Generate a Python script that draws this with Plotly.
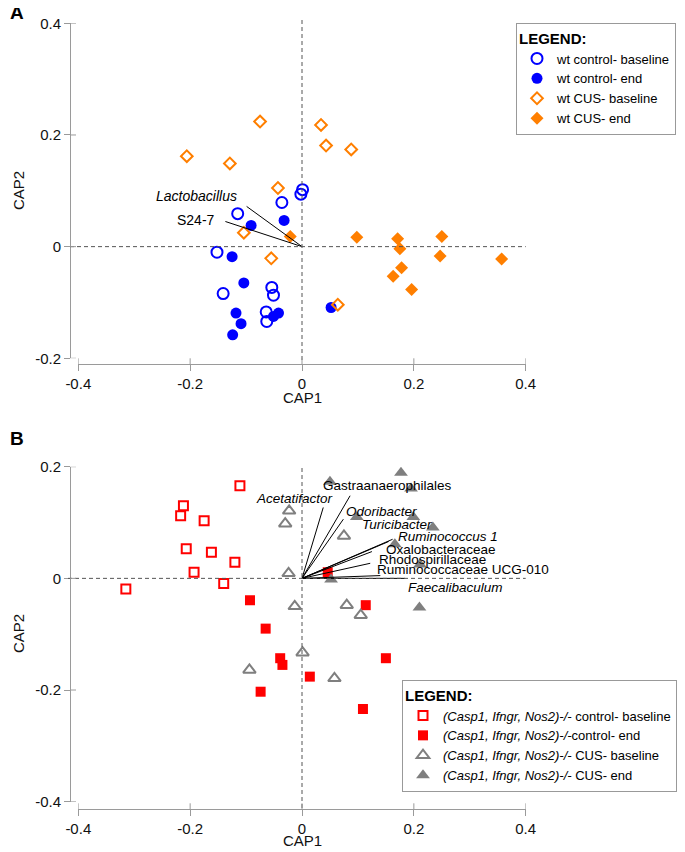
import plotly.graph_objects as go

# The page adds an 8px body margin, so the figure is drawn 8px in from the corner.
OFF = 8
W, H = 685 - OFF, 852 - OFF
FONT = "Liberation Sans, Arial, sans-serif"

# ---------------- Panel A data ----------------
a_ctrl_base_x = [0.001, -0.002, -0.036, -0.115, -0.152, -0.141, -0.054, -0.051, -0.064, -0.063]
a_ctrl_base_y = [0.102, 0.094, 0.079, 0.059, -0.010, -0.084, -0.073, -0.087, -0.117, -0.134]
a_ctrl_end_x = [-0.032, -0.091, -0.125, -0.104, -0.118, -0.109, -0.124, -0.042, -0.051, 0.052]
a_ctrl_end_y = [0.047, 0.038, -0.018, -0.065, -0.119, -0.138, -0.158, -0.119, -0.125, -0.109]
a_cus_base_x = [-0.075, -0.206, -0.129, -0.043, -0.104, -0.055, 0.034, 0.043, 0.088, 0.064]
a_cus_base_y = [0.224, 0.162, 0.149, 0.105, 0.025, -0.021, 0.218, 0.181, 0.174, -0.104]
a_cus_end_x = [-0.021, 0.098, 0.171, 0.175, 0.250, 0.247, 0.357, 0.178, 0.163, 0.196]
a_cus_end_y = [0.018, 0.017, 0.014, -0.004, 0.018, -0.017, -0.022, -0.038, -0.053, -0.077]
a_vec_names = ["<i>Lactobacillus</i>", "S24-7"]
a_vec_x = [-0.099, -0.137]
a_vec_y = [0.072, 0.045]
a_label_x = [-0.188, -0.189]
a_label_y = [0.090, 0.048]

# ---------------- Panel B data ----------------
b_ctrl_base_x = [-0.111, -0.212, -0.217, -0.175, -0.207, -0.162, -0.120, -0.193, -0.140, -0.315]
b_ctrl_base_y = [0.166, 0.130, 0.112, 0.103, 0.053, 0.047, 0.029, 0.011, -0.009, -0.019]
b_ctrl_end_x = [-0.093, -0.065, -0.039, -0.035, -0.074, 0.014, 0.046, 0.114, 0.150, 0.109]
b_ctrl_end_y = [-0.039, -0.090, -0.143, -0.155, -0.203, -0.176, 0.011, -0.048, -0.143, -0.234]
b_cus_base_x = [-0.023, -0.030, -0.024, -0.013, 0.001, -0.094, 0.075, 0.080, 0.105, 0.058]
b_cus_base_y = [0.121, 0.098, 0.009, -0.050, -0.133, -0.164, 0.076, -0.048, -0.066, -0.179]
b_cus_end_x = [0.050, 0.177, 0.195, 0.098, 0.199, 0.234, 0.166, 0.211, 0.052, 0.210]
b_cus_end_y = [0.173, 0.189, 0.161, 0.110, 0.110, 0.091, 0.061, 0.025, -0.002, -0.052]
b_vec_names = ["<i>Acetatifactor</i>", "Gastraanaerophilales", "<i>Odoribacter</i>",
               "<i>Turicibacter</i>", "<i>Ruminococcus 1</i>", "Oxalobacteraceae",
               "Rhodospirillaceae", "Ruminococcaceae UCG-010", "<i>Faecalibaculum</i>"]
b_vec_x = [0.038, 0.086, 0.074, 0.155, 0.162, 0.125, 0.122, 0.140, 0.184]
b_vec_y = [0.127, 0.148, 0.106, 0.066, 0.070, 0.048, 0.027, 0.005, 0.000]
b_label_x = [-0.014, 0.152, 0.143, 0.170, 0.261, 0.249, 0.234, 0.288, 0.274]
b_label_y = [0.143, 0.167, 0.119, 0.096, 0.075, 0.051, 0.033, 0.015, -0.016]

x_ticks = [-0.4, -0.2, 0, 0.2, 0.4]
x_ticktext = ["-0.4", "-0.2", "0", "0.2", "0.4"]
a_y_ticks = [-0.2, 0, 0.2, 0.4]
a_y_ticktext = ["-0.2", "0", "0.2", "0.4"]
b_y_ticks = [-0.4, -0.2, 0, 0.2]
b_y_ticktext = ["-0.4", "-0.2", "0", "0.2"]

BLUE = "#0000FF"
ORANGE = "#FF7F00"
RED = "#FF0000"
GRAY = "#7F7F7F"
AXC = "#9a9a9a"


def px(p):
    return (p - OFF) / W


def py(p):
    return 1 - (p - OFF) / H


fig = go.Figure()

# ----- Panel A traces -----
fig.add_trace(go.Scatter(x=a_ctrl_base_x, y=a_ctrl_base_y, mode="markers", name="wt control- baseline",
                         marker=dict(symbol="circle-open", size=11, color=BLUE, line=dict(width=2, color=BLUE)),
                         xaxis="x", yaxis="y", legend="legend"))
fig.add_trace(go.Scatter(x=a_ctrl_end_x, y=a_ctrl_end_y, mode="markers", name="wt control- end",
                         marker=dict(symbol="circle", size=11, color=BLUE),
                         xaxis="x", yaxis="y", legend="legend"))
fig.add_trace(go.Scatter(x=a_cus_base_x, y=a_cus_base_y, mode="markers", name="wt CUS- baseline",
                         marker=dict(symbol="diamond-open", size=9, color=ORANGE, line=dict(width=2, color=ORANGE)),
                         xaxis="x", yaxis="y", legend="legend"))
fig.add_trace(go.Scatter(x=a_cus_end_x, y=a_cus_end_y, mode="markers", name="wt CUS- end",
                         marker=dict(symbol="diamond", size=10, color=ORANGE),
                         xaxis="x", yaxis="y", legend="legend"))
vx, vy = [], []
for ex, ey in zip(a_vec_x, a_vec_y):
    vx += [0, ex, None]
    vy += [0, ey, None]
fig.add_trace(go.Scatter(x=vx, y=vy, mode="lines", line=dict(color="black", width=1),
                         showlegend=False, hoverinfo="skip", xaxis="x", yaxis="y"))

# ----- Panel B traces -----
fig.add_trace(go.Scatter(x=b_ctrl_base_x, y=b_ctrl_base_y, mode="markers",
                         name="<i>(Casp1, Ifngr, Nos2)-/-</i> control- baseline",
                         marker=dict(symbol="square-open", size=9, color=RED, line=dict(width=2, color=RED)),
                         xaxis="x2", yaxis="y2", legend="legend2"))
fig.add_trace(go.Scatter(x=b_ctrl_end_x, y=b_ctrl_end_y, mode="markers",
                         name="<i>(Casp1, Ifngr, Nos2)-/-</i>control- end",
                         marker=dict(symbol="square", size=10, color=RED),
                         xaxis="x2", yaxis="y2", legend="legend2"))
fig.add_trace(go.Scatter(x=b_cus_base_x, y=b_cus_base_y, mode="markers",
                         name="<i>(Casp1, Ifngr, Nos2)-/-</i> CUS- baseline",
                         marker=dict(symbol="triangle-up-open", size=11, color=GRAY, line=dict(width=2, color=GRAY)),
                         xaxis="x2", yaxis="y2", legend="legend2"))
fig.add_trace(go.Scatter(x=b_cus_end_x, y=b_cus_end_y, mode="markers",
                         name="<i>(Casp1, Ifngr, Nos2)-/-</i> CUS- end",
                         marker=dict(symbol="triangle-up", size=12, color=GRAY),
                         xaxis="x2", yaxis="y2", legend="legend2"))
vx, vy = [], []
for ex, ey in zip(b_vec_x, b_vec_y):
    vx += [0, ex, None]
    vy += [0, ey, None]
fig.add_trace(go.Scatter(x=vx, y=vy, mode="lines", line=dict(color="black", width=1),
                         showlegend=False, hoverinfo="skip", xaxis="x2", yaxis="y2"))

# ----- axes -----
xdom = [px(78.3), px(525.7)]
yaxis_pos = px(70)
tickfont = dict(family=FONT, size=15, color="#111")


def xax(pos):
    return dict(domain=xdom, range=[-0.4, 0.4], anchor="free", position=pos,
                tickvals=x_ticks, ticktext=x_ticktext, ticks="outside", ticklen=6,
                tickcolor=AXC, tickwidth=1, showline=True, linecolor=AXC, linewidth=1,
                showgrid=False, zeroline=False, tickfont=tickfont, fixedrange=True)


def yax(dom, rng, tv, tt):
    return dict(domain=dom, range=rng, anchor="free", position=yaxis_pos,
                tickvals=tv, ticktext=tt, ticks="outside", ticklen=6,
                tickcolor=AXC, tickwidth=1, showline=True, linecolor=AXC, linewidth=1,
                showgrid=False, zeroline=False, tickfont=tickfont, fixedrange=True)


a_xpos = py(364.3)
b_xpos = py(809.3)

fig.update_layout(
    xaxis=xax(a_xpos),
    yaxis=yax([py(358.3), py(23.3)], [-0.2, 0.4], a_y_ticks, a_y_ticktext),
    xaxis2=xax(b_xpos),
    yaxis2=yax([py(801.7), py(466.7)], [-0.4, 0.2], b_y_ticks, b_y_ticktext),
)

shapes = []
dash = "4px,3px"
dcol = "#555555"
# dashed reference lines
shapes.append(dict(type="line", xref="paper", yref="y", x0=px(70), x1=px(525.7), y0=0, y1=0,
                   line=dict(color=dcol, width=1, dash=dash)))
shapes.append(dict(type="line", xref="x", yref="paper", x0=0, x1=0, y0=py(360), y1=py(20),
                   line=dict(color=dcol, width=1, dash=dash)))
shapes.append(dict(type="line", xref="paper", yref="y2", x0=px(68), x1=px(525.7), y0=0, y1=0,
                   line=dict(color=dcol, width=1, dash=dash)))
shapes.append(dict(type="line", xref="x2", yref="paper", x0=0, x1=0, y0=py(808), y1=py(467),
                   line=dict(color=dcol, width=1, dash=dash)))
# inner halves of the crossing tick marks
for xr, pos in (("x", a_xpos), ("x2", b_xpos)):
    for tv in x_ticks:
        shapes.append(dict(type="line", xref=xr, yref="paper", x0=tv, x1=tv, y0=pos, y1=pos + 6 / H,
                           line=dict(color=AXC, width=1)))
for yr, tvs in (("y", a_y_ticks), ("y2", b_y_ticks)):
    for tv in tvs:
        shapes.append(dict(type="line", xref="paper", yref=yr, x0=yaxis_pos, x1=yaxis_pos + 6 / W,
                           y0=tv, y1=tv, line=dict(color=AXC, width=1)))

annotations = []
for name, lx, ly in zip(a_vec_names, a_label_x, a_label_y):
    annotations.append(dict(x=lx, y=ly, xref="x", yref="y", text=name, showarrow=False,
                            xanchor="center", yanchor="middle",
                            font=dict(family=FONT, size=14, color="black")))
for name, lx, ly in zip(b_vec_names, b_label_x, b_label_y):
    annotations.append(dict(x=lx, y=ly, xref="x2", yref="y2", text=name, showarrow=False,
                            xanchor="center", yanchor="middle",
                            font=dict(family=FONT, size=13.5, color="black")))

titlefont = dict(family=FONT, size=15, color="#111")
for (tx, ty, txt, ang) in ((302, 397, "CAP1", 0), (18, 191, "CAP2", -90),
                           (302, 840, "CAP1", 0), (18, 634, "CAP2", -90)):
    annotations.append(dict(x=px(tx), y=py(ty), xref="paper", yref="paper", text=txt, showarrow=False,
                            xanchor="center", yanchor="middle", textangle=ang, font=titlefont))
for (ty, txt) in ((12, "A"), (438, "B")):
    annotations.append(dict(x=0, y=py(ty), xref="paper", yref="paper", text="<b>%s</b>" % txt,
                            showarrow=False, xanchor="left", yanchor="middle",
                            font=dict(family=FONT, size=19, color="black")))

fig.update_layout(
    width=W, height=H,
    margin=dict(l=0, r=0, t=0, b=0, autoexpand=False),
    paper_bgcolor="white", plot_bgcolor="white",
    shapes=shapes, annotations=annotations,
    legend=dict(x=px(516), y=py(23), xanchor="left", yanchor="top",
                bgcolor="white", bordercolor="#999999", borderwidth=1,
                font=dict(family=FONT, size=13, color="black"),
                title=dict(text="<b>LEGEND:</b>", font=dict(family=FONT, size=15, color="black"))),
    legend2=dict(x=px(402), y=py(680), xanchor="left", yanchor="top",
                 bgcolor="white", bordercolor="#999999", borderwidth=1,
                 font=dict(family=FONT, size=13, color="black"),
                 title=dict(text="<b>LEGEND:</b>", font=dict(family=FONT, size=15, color="black"))),
    font=dict(family=FONT),
)

fig.write_html("out.html")
